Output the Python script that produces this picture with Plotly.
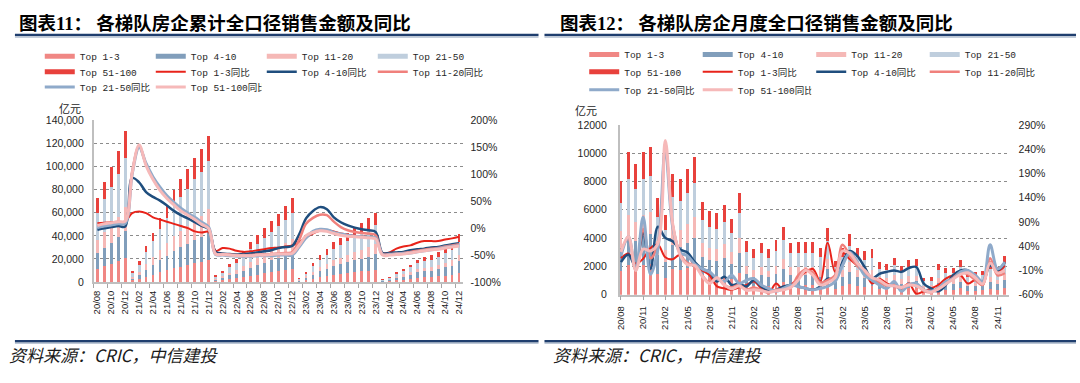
import plotly.graph_objects as go

# ---------------- categories ----------------
months = ["20/08","20/09","20/10","20/11","20/12",
          "21/01","21/02","21/03","21/04","21/05","21/06","21/07","21/08","21/09","21/10","21/11","21/12",
          "22/01","22/02","22/03","22/04","22/05","22/06","22/07","22/08","22/09","22/10","22/11","22/12",
          "23/01","23/02","23/03","23/04","23/05","23/06","23/07","23/08","23/09","23/10","23/11","23/12",
          "24/01","24/02","24/03","24/04","24/05","24/06","24/07","24/08","24/09","24/10","24/11","24/12"]

# ---------------- left chart: cumulative sales (亿元) ----------------
cum_top1_3 = [11700,13900,16000,18200,20900, 1400,2700,4700,6400,8300,10100,12000,13400,14600,16100,17300,19000,
              850,1600,2560,3200,4320,5520,6480,7440,8480,9440,10480,11600,
              580,1640,2930,4140,5150,6210,6930,7650,8460,9180,9940,10800,
              380,760,1560,2190,2890,3700,4050,4370,4900,5610,6270,7890]
cum_top4_10 = [13100,15700,18000,20400,23500, 1800,3400,5900,8100,10500,12700,15200,16900,18500,20300,21800,24000,
               1060,2000,3200,4000,5400,6900,8100,9300,10600,11800,13100,14500,
               700,2000,3590,5060,6290,7590,8470,9350,10340,11220,12140,13200,
               480,960,1970,2760,3650,4680,5110,5520,6190,7080,7920,9960]
cum_top11_20 = [11300,13500,15500,17600,20200, 1500,2900,5000,6800,8900,10700,12800,14200,15600,17100,18400,20200,
                800,1500,2400,3000,4050,5180,6080,6980,7950,8850,9830,10880,
                480,1370,2450,3450,4290,5180,5780,6380,7050,7650,8280,9000,
                280,560,1150,1610,2130,2730,2980,3220,3610,4130,4620,5810]
cum_top21_50 = [24100,28700,33000,37500,43100, 3200,5900,10200,14000,18300,22100,26400,29400,32200,35300,38000,41800,
                1640,3100,4960,6200,8370,10700,12560,14420,16430,18290,20300,22480,
                900,2550,4560,6440,8010,9660,10780,11900,13160,14280,15460,16800,
                540,1080,2210,3100,4100,5270,5750,6210,6970,7960,8910,11200]
cum_top51_100 = [12800,15200,17500,19800,22800, 1600,3100,5200,7200,9500,11400,13600,15100,16600,18200,19500,21500,
                 950,1800,2880,3600,4860,6200,7280,8360,9540,10620,11790,13040,
                 540,1540,2770,3910,4860,5860,6540,7220,7990,8670,9380,10200,
                 320,640,1310,1840,2430,3120,3410,3680,4130,4720,5280,6640]

cum_yoy_1_3 = [9,10,11,12,12, 28,31,28,20,16,12,8,4,0,-6,-8,-7,
               -42,-37,-38,-42,-44,-43,-41,-39,-37,-36,-34,-32,
               -26,-17,-10,-5,-4,-6,-10,-12,-14,-15,-17,-19,
               -46,-45,-38,-34,-32,-27,-24,-24,-24,-21,-19,-16]
cum_yoy_4_10 = [-3,0,2,4,3, 93,85,67,58,51,42,32,24,18,11,4,-2,
                -44,-47,-48,-49,-48,-47,-45,-43,-41,-37,-35,-33,
                -12,18,32,39,35,20,11,5,1,-2,-4,-7,
                -46,-46,-45,-44,-41,-39,-38,-36,-35,-32,-30,-28]
cum_yoy_11_20 = [4,7,9,10,11, 105,152,118,92,72,57,45,34,26,18,9,0,
                 -47,-48,-49,-50,-50,-50,-49,-49,-48,-47,-46,-45,
                 -22,8,19,25,24,12,2,-4,-7,-9,-10,-13,
                 -48,-48,-47,-46,-44,-42,-40,-38,-37,-34,-32,-30]
cum_yoy_21_50 = [1,4,6,8,9, 100,150,120,95,76,60,48,37,28,20,11,2,
                 -49,-50,-51,-52,-52,-52,-51,-51,-51,-50,-50,-50,
                 -35,-18,-6,-2,-3,-8,-11,-13,-15,-16,-17,-18,
                 -49,-49,-48,-47,-46,-44,-42,-40,-38,-36,-34,-32]
cum_yoy_51_100 = [5,8,10,12,13, 102,154,116,90,70,55,43,32,24,16,7,-1,
                  -48,-49,-50,-51,-51,-51,-50,-50,-49,-48,-48,-47,
                  -32,-14,-8,-5,-6,-10,-13,-15,-16,-17,-18,-20,
                  -50,-50,-49,-48,-46,-44,-42,-40,-39,-37,-35,-33]

# ---------------- right chart: monthly sales (亿元) ----------------
mon_top1_3 = [1680,2110,1930,2120,2180, 1430,1190,1790,1710,1870,2050,1380,1240,1210,1330,1120,1500,
              680,590,660,580,690,860,660,670,660,670,590,850,
              430,590,770,600,560,580,410,400,470,370,440,460,
              220,230,400,340,350,440,290,280,310,410,350,490]
mon_top4_10 = [1600,2010,1840,2020,2080, 1360,1130,1700,1630,1780,1950,1310,1180,1150,1270,1070,1430,
               760,650,730,640,770,960,730,740,750,730,660,940,
               480,660,860,660,620,650,460,440,520,410,490,510,
               240,250,440,380,380,490,320,330,340,460,390,540]
mon_top11_20 = [1200,1510,1380,1520,1560, 1020,850,1280,1220,1340,1460,980,890,860,950,800,1070,
                570,490,550,480,580,720,550,550,560,560,500,700,
                360,500,650,490,460,490,350,330,390,310,370,380,
                180,190,330,290,280,370,240,240,250,350,290,400]
mon_top21_50 = [2000,2510,2300,2520,2600, 1700,1410,2120,2040,2220,2440,1640,1470,1440,1590,1340,1790,
                1030,880,980,860,1040,1300,980,1000,990,1000,890,1270,
                650,890,1160,890,840,880,620,590,700,550,660,690,
                320,330,590,510,510,660,430,430,460,620,530,730]
mon_top51_100 = [1520,1910,1750,1920,1980, 1290,1070,1610,1550,1690,1850,1240,1120,1090,1210,1020,1360,
                 760,640,730,640,770,960,730,740,740,740,660,940,
                 480,660,860,660,620,650,460,440,520,410,490,510,
                 240,250,440,380,380,490,320,320,340,460,390,540]

mon_yoy_1_3 = [15,25,4,14,36, 43,17,13,23,20,0,-10,-20,-43,-47,-50,-45,
               -40,-33,-47,-57,-37,-50,-40,-27,-13,-7,-33,47,
               -13,27,13,0,-10,-37,-27,-37,-43,-47,-37,-58,
               -53,-47,-40,-27,-20,-20,-37,-30,-40,7,-13,0]
mon_yoy_4_10 = [7,23,-3,67,-7, 80,57,50,33,27,7,-7,-13,-33,-23,-40,-37,
                -43,-30,-43,-53,-50,-43,-40,-43,-47,-50,-43,-27,
                -30,7,30,20,-3,-27,-17,-13,-10,-13,-5,-3,
                -37,-47,-53,-40,-20,-10,-10,-27,-33,0,-10,7]
mon_yoy_11_20 = [30,55,-10,75,15, 45,245,85,25,5,0,-20,-35,-25,-40,-45,-40,
                 -50,-45,-50,-55,-50,-48,-45,-20,-8,-15,-35,-30,
                 -20,43,20,0,-15,-30,-35,-42,-40,-45,-38,-40,
                 -52,-55,-45,-35,-25,-15,-18,-30,-40,15,-20,-15]
mon_yoy_21_50 = [20,60,-8,100,-18, 34,240,80,27,20,3,-7,-13,-27,-33,-20,-37,
                 -30,-27,-40,-47,-53,-47,-40,-43,-47,-50,-47,-43,
                 -33,0,27,7,-20,-30,-40,-47,-33,-53,-40,-37,
                 -50,-53,-47,-33,-27,-13,-10,-20,-33,43,-7,7]
mon_yoy_51_100 = [28,60,-10,34,30, 45,258,86,22,2,0,-22,-37,-25,-40,-48,-42,
                  -51,-50,-52,-55,-52,-50,-45,-30,-10,-20,-40,-35,
                  -25,30,25,5,-10,-25,-30,-40,-42,-45,-40,-42,
                  -50,-55,-48,-38,-28,-18,-15,-25,-38,5,-15,-10]

# ---------------- tick labels ----------------
left_y_vals = [0, 20000, 40000, 60000, 80000, 100000, 120000, 140000]
left_y2_vals = [-100, -50, 0, 50, 100, 150, 200]
left_y2_text = ["-100%", "-50%", "0%", "50%", "100%", "150%", "200%"]
right_y_vals = [0, 2000, 4000, 6000, 8000, 10000, 12000]
right_y2_vals = [-60, -10, 40, 90, 140, 190, 240, 290]
right_y2_text = ["-60%", "-10%", "40%", "90%", "140%", "190%", "240%", "290%"]

bar_names = ["Top 1-3", "Top 4-10", "Top 11-20", "Top 21-50", "Top 51-100"]
line_names = ["Top 1-3同比", "Top 4-10同比", "Top 11-20同比", "Top 21-50同比", "Top 51-100同比"]

# ---------------- styles ----------------
bar_colors = ["#F08784", "#819EBB", "#F5B8B6", "#BFCEDD", "#E8413C"]
line_colors = ["#E8231A", "#1F4E7E", "#F0807C", "#8FAACA", "#F6B9B9"]
line_widths = [2, 2.5, 2.5, 3, 3]

fig = go.Figure()

panels = [
    dict(x="x", yb="y", yl="y2",
         bars=[cum_top1_3, cum_top4_10, cum_top11_20, cum_top21_50, cum_top51_100],
         lines=[cum_yoy_1_3, cum_yoy_4_10, cum_yoy_11_20, cum_yoy_21_50, cum_yoy_51_100],
         legends=["legend", "legend2", "legend3"]),
    dict(x="x2", yb="y3", yl="y4",
         bars=[mon_top1_3, mon_top4_10, mon_top11_20, mon_top21_50, mon_top51_100],
         lines=[mon_yoy_1_3, mon_yoy_4_10, mon_yoy_11_20, mon_yoy_21_50, mon_yoy_51_100],
         legends=["legend4", "legend5", "legend6"]),
]

# legend row of each of the 10 entries (bars first, then lines)
entry_row = [0, 0, 0, 0, 1, 1, 1, 1, 2, 2]

for p in panels:
    for i, vals in enumerate(p["bars"]):
        fig.add_trace(go.Bar(x=months, y=vals, name=bar_names[i], xaxis=p["x"], yaxis=p["yb"],
                             marker=dict(color=bar_colors[i], line=dict(width=0)),
                             showlegend=False, hoverinfo="skip"))
    # legend swatches for the bar series (drawn as thick lines like the original)
    for i in range(5):
        fig.add_trace(go.Scatter(x=[None], y=[None], mode="lines", name=bar_names[i],
                                 xaxis=p["x"], yaxis=p["yb"],
                                 line=dict(color=bar_colors[i], width=5),
                                 legend=p["legends"][entry_row[i]]))
    for i, vals in enumerate(p["lines"]):
        fig.add_trace(go.Scatter(x=months, y=vals, name=line_names[i], mode="lines",
                                 xaxis=p["x"], yaxis=p["yl"],
                                 line=dict(color=line_colors[i], width=line_widths[i], shape="spline", smoothing=1),
                                 legend=p["legends"][entry_row[5 + i]]))

W, H = 1080, 383
def px(x):
    return x / W
def py(y):
    return (H - y) / H

tickfont = dict(family="Liberation Sans, Arial", size=10.5, color="#262626")
xtickfont = dict(family="Liberation Sans, Arial", size=9.5, color="#1a1a1a")
gridc = "#8C8C8C"

def legend_cfg(x, y, ew):
    return dict(x=px(x), y=py(y), xanchor="left", yanchor="middle", orientation="h",
                traceorder="normal",
                font=dict(family="Liberation Mono, Noto Sans CJK SC", size=9.5, color="#262626"),
                bgcolor="rgba(0,0,0,0)", entrywidth=ew, entrywidthmode="pixels",
                itemwidth=30, tracegroupgap=0, borderwidth=0)

fig.update_layout(
    width=W, height=H, margin=dict(l=0, r=0, t=0, b=0),
    paper_bgcolor="white", plot_bgcolor="white",
    barmode="stack", bargap=0.6,
    hovermode=False,
    xaxis=dict(domain=[px(89.5), px(460.5)], type="category", range=[-0.5, 52.5],
               tickmode="linear", tick0=0, dtick=2, tickangle=-90, tickfont=xtickfont,
               ticks="outside", tickson="boundaries", ticklen=4, tickcolor="#A6A6A6",
               showline=True, linecolor="#BFBFBF", linewidth=1.5, showgrid=False, anchor="y",
               ticklabelstandoff=3),
    yaxis=dict(domain=[py(285), py(118)], range=[0, 140000], tickvals=left_y_vals, tickformat=",",
               tickfont=tickfont, showgrid=True, gridcolor=gridc, griddash="dot", gridwidth=1,
               showline=True, linecolor="#BFBFBF", linewidth=2, ticks="", zeroline=False,
               anchor="x", ticklabelstandoff=6),
    yaxis2=dict(overlaying="y", side="right", range=[-100, 200], tickvals=left_y2_vals, ticktext=left_y2_text,
                tickfont=tickfont, showgrid=False, zeroline=False, showline=False, ticks="",
                anchor="x", ticklabelstandoff=7),
    xaxis2=dict(domain=[px(618.9), px(1010.1)], type="category", range=[-0.15, 52.5],
                tickmode="linear", tick0=0, dtick=3, tickangle=-90, tickfont=xtickfont,
                ticks="outside", ticklen=4, tickcolor="#A6A6A6",
                showline=True, linecolor="#BFBFBF", linewidth=1.5, showgrid=False, anchor="y3",
                ticklabelstandoff=2),
    yaxis3=dict(domain=[py(298), py(122.7)], range=[0, 12000], tickvals=right_y_vals, tickformat="d",
                tickfont=tickfont, showgrid=True, gridcolor=gridc, griddash="dot", gridwidth=1,
                showline=True, linecolor="#BFBFBF", linewidth=2, ticks="", zeroline=False,
                anchor="x2", ticklabelstandoff=9),
    yaxis4=dict(overlaying="y3", side="right", range=[-60, 290], tickvals=right_y2_vals, ticktext=right_y2_text,
                tickfont=tickfont, showgrid=False, zeroline=False, showline=False, ticks="",
                anchor="x2", ticklabelstandoff=9),
    legend=legend_cfg(35, 52, 66), legend2=legend_cfg(35, 68, 66), legend3=legend_cfg(35, 83.5, 66),
    legend4=legend_cfg(583, 50, 68.5), legend5=legend_cfg(583, 68, 68.5), legend6=legend_cfg(583, 86.5, 68.5),
)

title_font = dict(family="Noto Sans CJK SC", size=18.5, color="#000000", weight="bold")
serif = "font-family:'Liberation Serif'"
annos = [
    dict(x=px(12), y=py(16.5), text=f"图表<span style=\"{serif}\">11</span>： 各梯队房企累计全口径销售金额及同比",
         xanchor="left", yanchor="middle", font=title_font),
    dict(x=px(557), y=py(16.5), text=f"图表<span style=\"{serif}\">12</span>： 各梯队房企月度全口径销售金额及同比",
         xanchor="left", yanchor="middle", font=title_font),
    dict(x=px(65), y=py(105.5), text="亿元", xanchor="center", yanchor="middle",
         font=dict(family="Noto Sans CJK SC", size=11, color="#262626")),
    dict(x=px(585), y=py(107.5), text="亿元", xanchor="center", yanchor="middle",
         font=dict(family="Noto Sans CJK SC", size=11, color="#262626")),
    dict(x=px(2), y=py(360), text="资料来源：CRIC，中信建投", xanchor="left", yanchor="middle",
         font=dict(family="Noto Sans CJK SC", size=17, color="#1a1a1a", style="italic")),
    dict(x=px(550), y=py(360), text="资料来源：CRIC，中信建投", xanchor="left", yanchor="middle",
         font=dict(family="Noto Sans CJK SC", size=17, color="#1a1a1a", style="italic")),
]
for a in annos:
    a.update(xref="paper", yref="paper", showarrow=False)
fig.update_layout(annotations=annos)

shapes = []
for (x0, x1) in [(10, 537), (543, 1078)]:
    for (yy, col, w) in [(30, "#1F3E6E", 2.5), (32.2, "#AAB8CB", 1)]:
        shapes.append(dict(type="line", xref="paper", yref="paper", x0=px(x0), x1=px(x1),
                           y0=py(yy), y1=py(yy), line=dict(color=col, width=w)))
    for (yy, col, w) in [(346, "#1F3E6E", 2.5), (348.2, "#AAB8CB", 1)]:
        shapes.append(dict(type="line", xref="paper", yref="paper", x0=px(x0), x1=px(x1),
                           y0=py(yy), y1=py(yy), line=dict(color=col, width=w)))
fig.update_layout(shapes=shapes)

fig.write_html("out.html",
               config={"displayModeBar": False},
               post_script="document.body.style.margin='0';document.body.style.overflow='hidden';")
